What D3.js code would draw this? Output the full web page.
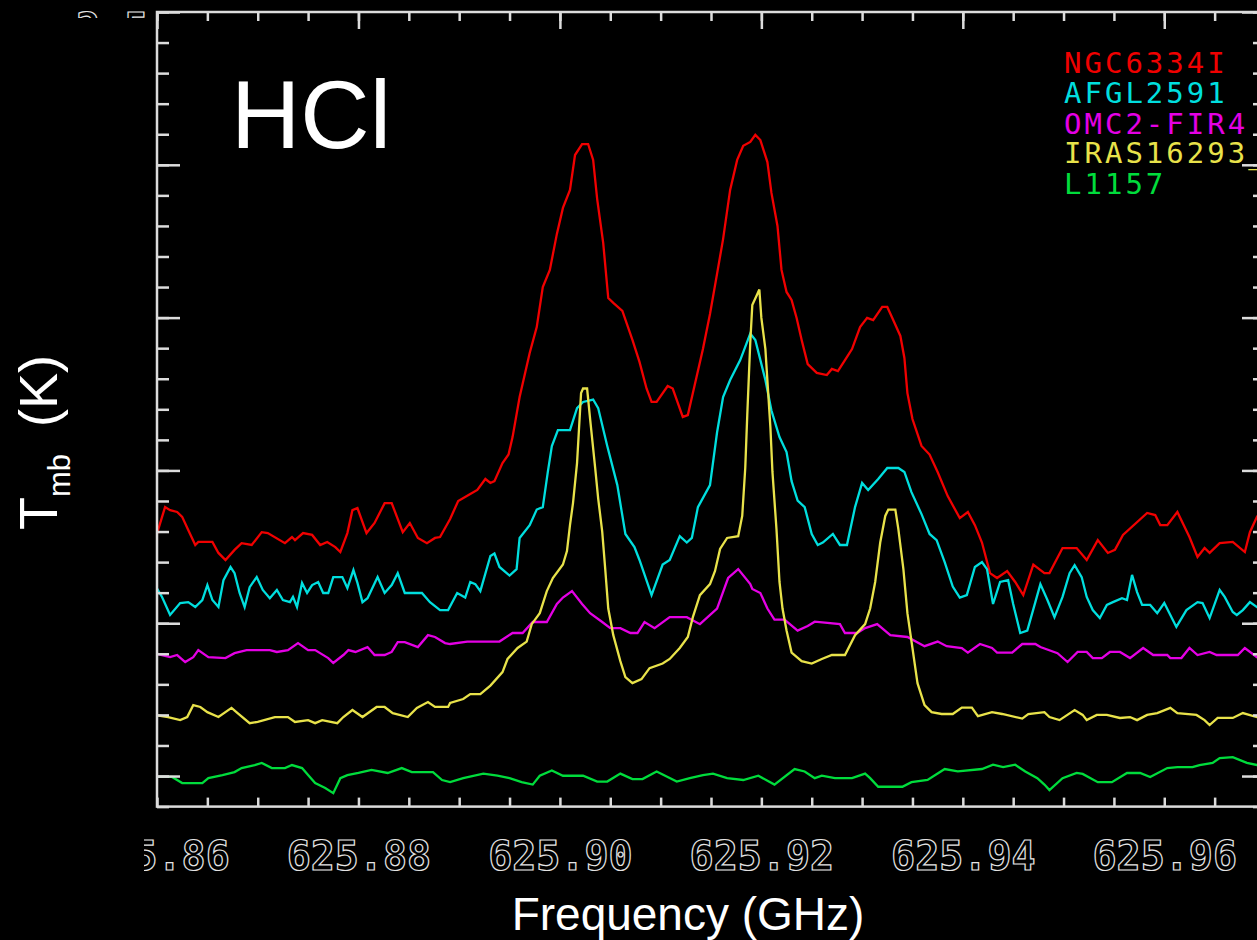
<!DOCTYPE html>
<html><head><meta charset="utf-8">
<script src="https://cdn.jsdelivr.net/npm/d3@7"></script>
<style>html,body{margin:0;padding:0;background:#000;overflow:hidden} svg{display:block}</style>
</head><body><svg id="c" width="1257" height="940"></svg>
<script>
// ---------- data ----------
const seriesNames = ["NGC6334I","AFGL2591","OMC2-FIR4","IRAS16293_","L1157"];
const seriesColors = ["#f00000","#00dede","#e400e4","#e8e24a","#00dc3c"];

const ngc6334i = [[625.8598,0.772],[625.8608,0.880],[625.8613,0.870],[625.8620,0.864],[625.8625,0.848],[625.8631,0.805],[625.8638,0.756],[625.8641,0.766],[625.8655,0.766],[625.8661,0.730],[625.8668,0.707],[625.8677,0.740],[625.8684,0.762],[625.8694,0.756],[625.8704,0.798],[625.8710,0.795],[625.8727,0.762],[625.8734,0.782],[625.8737,0.772],[625.8745,0.795],[625.8754,0.789],[625.8762,0.756],[625.8769,0.766],[625.8777,0.749],[625.8782,0.733],[625.8789,0.795],[625.8794,0.870],[625.8799,0.877],[625.8808,0.795],[625.8816,0.828],[625.8826,0.893],[625.8833,0.893],[625.8844,0.798],[625.8851,0.828],[625.8859,0.779],[625.8868,0.762],[625.8876,0.779],[625.8881,0.782],[625.8891,0.841],[625.8899,0.900],[625.8911,0.923],[625.8918,0.936],[625.8926,0.972],[625.8931,0.959],[625.8935,0.965],[625.8943,1.024],[625.8949,1.052],[625.8953,1.109],[625.8960,1.240],[625.8970,1.384],[625.8977,1.469],[625.8983,1.600],[625.8990,1.656],[625.8997,1.774],[625.9003,1.859],[625.9010,1.918],[625.9015,2.032],[625.9022,2.068],[625.9028,2.068],[625.9033,2.016],[625.9037,1.888],[625.9043,1.744],[625.9048,1.564],[625.9053,1.548],[625.9062,1.522],[625.9072,1.427],[625.9079,1.355],[625.9086,1.268],[625.9091,1.224],[625.9096,1.224],[625.9107,1.276],[625.9112,1.268],[625.9122,1.175],[625.9127,1.181],[625.9132,1.253],[625.9142,1.397],[625.9149,1.512],[625.9156,1.643],[625.9162,1.757],[625.9169,1.918],[625.9176,2.016],[625.9182,2.062],[625.9189,2.075],[625.9194,2.098],[625.9199,2.081],[625.9206,2.009],[625.9210,1.908],[625.9216,1.800],[625.9220,1.656],[625.9225,1.584],[625.9230,1.558],[625.9235,1.499],[625.9240,1.427],[625.9246,1.348],[625.9255,1.319],[625.9265,1.312],[625.9270,1.332],[625.9276,1.325],[625.9283,1.361],[625.9290,1.397],[625.9298,1.469],[625.9305,1.499],[625.9311,1.492],[625.9320,1.535],[625.9325,1.535],[625.9330,1.499],[625.9338,1.440],[625.9342,1.368],[625.9345,1.253],[625.9350,1.168],[625.9359,1.080],[625.9367,1.052],[625.9375,0.995],[625.9385,0.916],[625.9397,0.844],[625.9405,0.864],[625.9412,0.821],[625.9419,0.764],[625.9427,0.664],[625.9434,0.648],[625.9444,0.671],[625.9452,0.635],[625.9460,0.592],[625.9470,0.692],[625.9481,0.664],[625.9486,0.664],[625.9499,0.746],[625.9513,0.746],[625.9523,0.707],[625.9534,0.772],[625.9544,0.730],[625.9551,0.740],[625.9559,0.789],[625.9583,0.861],[625.9591,0.854],[625.9596,0.821],[625.9603,0.821],[625.9613,0.864],[625.9625,0.782],[625.9633,0.717],[625.9640,0.746],[625.9645,0.730],[625.9655,0.762],[625.9668,0.766],[625.9680,0.733],[625.9685,0.798],[625.9692,0.848],[625.9700,0.887]];

const afgl2591 = [[625.8598,0.625],[625.8605,0.586],[625.8613,0.527],[625.8623,0.566],[625.8631,0.569],[625.8638,0.553],[625.8645,0.576],[625.8650,0.625],[625.8655,0.576],[625.8661,0.553],[625.8666,0.641],[625.8673,0.684],[625.8677,0.664],[625.8682,0.599],[625.8687,0.553],[625.8692,0.618],[625.8699,0.651],[625.8705,0.609],[625.8712,0.582],[625.8719,0.609],[625.8725,0.576],[625.8732,0.569],[625.8735,0.586],[625.8739,0.553],[625.8744,0.632],[625.8749,0.599],[625.8754,0.625],[625.8760,0.635],[625.8765,0.599],[625.8770,0.599],[625.8775,0.651],[625.8784,0.651],[625.8789,0.615],[625.8795,0.674],[625.8799,0.632],[625.8804,0.569],[625.8809,0.582],[625.8819,0.651],[625.8826,0.599],[625.8833,0.625],[625.8839,0.664],[625.8846,0.599],[625.8863,0.599],[625.8871,0.569],[625.8881,0.543],[625.8889,0.543],[625.8898,0.599],[625.8906,0.584],[625.8911,0.635],[625.8916,0.628],[625.8921,0.605],[625.8931,0.720],[625.8935,0.728],[625.8940,0.684],[625.8950,0.656],[625.8957,0.677],[625.8960,0.779],[625.8970,0.821],[625.8977,0.872],[625.8983,0.880],[625.8988,0.995],[625.8992,1.080],[625.8998,1.132],[625.9010,1.132],[625.9017,1.204],[625.9023,1.224],[625.9033,1.232],[625.9038,1.204],[625.9047,1.080],[625.9057,0.952],[625.9065,0.792],[625.9074,0.749],[625.9079,0.707],[625.9091,0.592],[625.9102,0.692],[625.9109,0.707],[625.9119,0.785],[625.9126,0.764],[625.9131,0.779],[625.9137,0.880],[625.9149,0.952],[625.9156,1.124],[625.9162,1.240],[625.9169,1.296],[625.9179,1.361],[625.9189,1.448],[625.9194,1.427],[625.9204,1.296],[625.9210,1.196],[625.9218,1.109],[625.9225,1.060],[625.9230,0.965],[625.9236,0.901],[625.9243,0.880],[625.9250,0.792],[625.9256,0.756],[625.9261,0.764],[625.9271,0.792],[625.9278,0.756],[625.9285,0.756],[625.9293,0.880],[625.9300,0.959],[625.9306,0.936],[625.9316,0.972],[625.9325,1.008],[625.9336,1.008],[625.9342,0.995],[625.9349,0.929],[625.9359,0.857],[625.9367,0.792],[625.9374,0.772],[625.9382,0.700],[625.9390,0.620],[625.9397,0.584],[625.9404,0.592],[625.9412,0.684],[625.9419,0.700],[625.9424,0.677],[625.9430,0.563],[625.9437,0.635],[625.9445,0.641],[625.9450,0.563],[625.9457,0.468],[625.9464,0.476],[625.9472,0.569],[625.9477,0.628],[625.9484,0.576],[625.9491,0.520],[625.9499,0.586],[625.9506,0.664],[625.9511,0.690],[625.9518,0.651],[625.9523,0.586],[625.9529,0.543],[625.9536,0.517],[625.9543,0.560],[625.9549,0.569],[625.9558,0.582],[625.9563,0.576],[625.9568,0.658],[625.9573,0.602],[625.9578,0.560],[625.9586,0.560],[625.9593,0.533],[625.9600,0.566],[625.9612,0.488],[625.9622,0.543],[625.9633,0.569],[625.9638,0.566],[625.9645,0.517],[625.9655,0.609],[625.9660,0.586],[625.9668,0.537],[625.9672,0.527],[625.9678,0.543],[625.9685,0.569],[625.9692,0.553],[625.9700,0.576]];

const omc2fir4 = [[625.8598,0.402],[625.8605,0.396],[625.8613,0.389],[625.8620,0.396],[625.8628,0.373],[625.8636,0.389],[625.8641,0.412],[625.8651,0.389],[625.8668,0.386],[625.8677,0.402],[625.8689,0.412],[625.8712,0.412],[625.8719,0.406],[625.8730,0.412],[625.8740,0.435],[625.8750,0.412],[625.8757,0.412],[625.8770,0.386],[625.8775,0.370],[625.8785,0.396],[625.8790,0.412],[625.8797,0.406],[625.8809,0.422],[625.8816,0.396],[625.8826,0.396],[625.8833,0.406],[625.8839,0.438],[625.8846,0.438],[625.8859,0.422],[625.8869,0.461],[625.8876,0.455],[625.8886,0.435],[625.8891,0.432],[625.8908,0.440],[625.8940,0.440],[625.8953,0.468],[625.8963,0.468],[625.8973,0.504],[625.8987,0.504],[625.8997,0.563],[625.9003,0.584],[625.9012,0.605],[625.9022,0.563],[625.9030,0.533],[625.9042,0.504],[625.9050,0.484],[625.9060,0.484],[625.9070,0.468],[625.9077,0.468],[625.9084,0.504],[625.9094,0.484],[625.9109,0.520],[625.9126,0.520],[625.9139,0.497],[625.9156,0.548],[625.9167,0.648],[625.9177,0.677],[625.9189,0.628],[625.9191,0.612],[625.9199,0.599],[625.9206,0.548],[625.9213,0.512],[625.9223,0.512],[625.9236,0.476],[625.9246,0.491],[625.9253,0.505],[625.9278,0.497],[625.9283,0.468],[625.9295,0.468],[625.9303,0.484],[625.9315,0.497],[625.9328,0.461],[625.9345,0.455],[625.9362,0.425],[625.9375,0.440],[625.9384,0.425],[625.9399,0.419],[625.9405,0.404],[625.9417,0.432],[625.9429,0.419],[625.9434,0.404],[625.9449,0.404],[625.9459,0.432],[625.9472,0.432],[625.9477,0.422],[625.9494,0.402],[625.9504,0.373],[625.9514,0.406],[625.9523,0.406],[625.9529,0.386],[625.9538,0.386],[625.9546,0.406],[625.9556,0.406],[625.9566,0.386],[625.9579,0.419],[625.9589,0.396],[625.9603,0.396],[625.9606,0.386],[625.9617,0.386],[625.9625,0.419],[625.9633,0.396],[625.9645,0.406],[625.9652,0.396],[625.9673,0.396],[625.9680,0.419],[625.9692,0.389],[625.9700,0.396]];

const iras16293 = [[625.8598,0.200],[625.8611,0.193],[625.8623,0.183],[625.8630,0.193],[625.8636,0.232],[625.8643,0.226],[625.8650,0.209],[625.8661,0.193],[625.8674,0.223],[625.8680,0.206],[625.8692,0.173],[625.8700,0.177],[625.8717,0.193],[625.8730,0.193],[625.8737,0.177],[625.8750,0.183],[625.8757,0.173],[625.8764,0.183],[625.8779,0.173],[625.8785,0.193],[625.8794,0.216],[625.8804,0.193],[625.8818,0.226],[625.8826,0.226],[625.8834,0.206],[625.8849,0.193],[625.8858,0.223],[625.8869,0.242],[625.8876,0.226],[625.8889,0.226],[625.8891,0.239],[625.8904,0.252],[625.8911,0.268],[625.8921,0.268],[625.8931,0.296],[625.8943,0.340],[625.8948,0.383],[625.8958,0.419],[625.8967,0.440],[625.8972,0.497],[625.8980,0.533],[625.8987,0.605],[625.8993,0.648],[625.9003,0.692],[625.9007,0.736],[625.9010,0.821],[625.9013,0.893],[625.9017,1.024],[625.9019,1.139],[625.9021,1.253],[625.9023,1.268],[625.9027,1.268],[625.9030,1.168],[625.9035,1.008],[625.9038,0.908],[625.9042,0.800],[625.9045,0.677],[625.9048,0.548],[625.9053,0.461],[625.9060,0.376],[625.9065,0.324],[625.9072,0.304],[625.9081,0.317],[625.9089,0.353],[625.9102,0.368],[625.9109,0.383],[625.9119,0.419],[625.9127,0.455],[625.9132,0.520],[625.9139,0.592],[625.9149,0.628],[625.9154,0.671],[625.9159,0.743],[625.9166,0.779],[625.9177,0.785],[625.9181,0.851],[625.9184,1.008],[625.9186,1.181],[625.9189,1.420],[625.9191,1.541],[625.9196,1.577],[625.9198,1.592],[625.9200,1.499],[625.9204,1.397],[625.9209,1.139],[625.9211,0.995],[625.9215,0.808],[625.9218,0.635],[625.9221,0.548],[625.9225,0.476],[625.9230,0.404],[625.9240,0.376],[625.9250,0.368],[625.9260,0.383],[625.9270,0.396],[625.9283,0.396],[625.9293,0.461],[625.9303,0.497],[625.9308,0.548],[625.9313,0.635],[625.9318,0.764],[625.9323,0.851],[625.9326,0.872],[625.9333,0.872],[625.9336,0.808],[625.9341,0.677],[625.9345,0.533],[625.9350,0.419],[625.9355,0.304],[625.9362,0.232],[625.9369,0.209],[625.9379,0.203],[625.9390,0.203],[625.9399,0.224],[625.9409,0.224],[625.9415,0.196],[625.9429,0.209],[625.9439,0.203],[625.9459,0.188],[625.9465,0.203],[625.9481,0.209],[625.9486,0.193],[625.9496,0.183],[625.9511,0.216],[625.9519,0.200],[625.9523,0.183],[625.9533,0.200],[625.9543,0.200],[625.9556,0.190],[625.9566,0.193],[625.9573,0.183],[625.9583,0.200],[625.9593,0.206],[625.9606,0.223],[625.9613,0.206],[625.9632,0.200],[625.9640,0.183],[625.9645,0.167],[625.9653,0.190],[625.9668,0.190],[625.9678,0.206],[625.9692,0.193],[625.9700,0.200]];

const l1157 = [[625.8598,-0.003],[625.8615,-0.003],[625.8625,-0.023],[625.8645,-0.023],[625.8651,-0.007],[625.8665,0.003],[625.8677,0.013],[625.8684,0.026],[625.8697,0.036],[625.8704,0.043],[625.8714,0.026],[625.8727,0.026],[625.8734,0.036],[625.8744,0.026],[625.8750,0.003],[625.8757,-0.023],[625.8767,-0.039],[625.8775,-0.056],[625.8782,-0.007],[625.8789,0.003],[625.8800,0.010],[625.8813,0.020],[625.8829,0.010],[625.8843,0.026],[625.8853,0.013],[625.8874,0.013],[625.8883,-0.013],[625.8891,-0.020],[625.8904,-0.007],[625.8924,0.008],[625.8938,0.001],[625.8950,-0.007],[625.8962,-0.020],[625.8973,-0.028],[625.8980,0.001],[625.8992,0.018],[625.9003,0.001],[625.9023,0.001],[625.9037,-0.018],[625.9047,-0.018],[625.9060,0.008],[625.9072,-0.010],[625.9082,-0.010],[625.9096,0.015],[625.9116,-0.018],[625.9129,-0.007],[625.9142,0.003],[625.9152,0.008],[625.9166,-0.007],[625.9182,-0.013],[625.9197,0.001],[625.9213,-0.028],[625.9233,0.023],[625.9243,0.015],[625.9253,-0.007],[625.9260,0.001],[625.9273,-0.007],[625.9290,-0.007],[625.9303,0.008],[625.9308,-0.007],[625.9316,-0.035],[625.9340,-0.035],[625.9349,-0.020],[625.9365,-0.013],[625.9375,0.008],[625.9382,0.023],[625.9395,0.015],[625.9419,0.023],[625.9430,0.037],[625.9440,0.029],[625.9452,0.037],[625.9462,0.015],[625.9474,-0.007],[625.9481,-0.028],[625.9486,-0.046],[625.9499,-0.007],[625.9513,0.010],[625.9519,0.007],[625.9534,-0.020],[625.9548,-0.020],[625.9563,0.010],[625.9576,0.010],[625.9586,-0.003],[625.9603,0.026],[625.9613,0.029],[625.9628,0.029],[625.9635,0.036],[625.9648,0.043],[625.9655,0.059],[625.9668,0.062],[625.9682,0.043],[625.9692,0.036],[625.9700,0.039]];

const allSeries = [ngc6334i, afgl2591, omc2fir4, iras16293, l1157];

const xDomain = [625.86, 625.97];
const yDomain = [-0.1, 2.5];
const xMajorTicks = [625.86, 625.88, 625.90, 625.92, 625.94, 625.96];
const xTickLabels = ["625.86","625.88","625.90","625.92","625.94","625.96"];
const yMajorTicks = [0.0, 0.5, 1.0, 1.5, 2.0, 2.5];
const yTopLabel = "2.5";
const titleText = "HCl";
const xTitle = "Frequency (GHz)";

// ---------- layout ----------
const L = 157, R = 1265, T = 12, B = 806.6;
const svg = d3.select("#c");
svg.append("rect").attr("width",1257).attr("height",940).attr("fill","#000");

const x = d3.scaleLinear().domain(xDomain).range([L, R]);
const y = d3.scaleLinear().domain(yDomain).range([B, T]);

const xMinor = d3.range(0, 23).map(i => +(xDomain[0] + i*0.005).toFixed(3));
const yMinor = d3.range(0, 27).map(i => +(yDomain[0] + i*0.1).toFixed(1));

const axisColor = "#dcdcdc";
function styleAxis(g){
  g.select(".domain").remove();
  g.selectAll(".tick line").attr("stroke", axisColor).attr("stroke-width", 2.5);
}

const defs = svg.append("defs");
defs.append("clipPath").attr("id","plotclip").append("rect")
  .attr("x", L).attr("y", T).attr("width", R-L).attr("height", B-T);
defs.append("clipPath").attr("id","labclip").append("rect")
  .attr("x", 144).attr("y", 0).attr("width", 1200).attr("height", 940);
defs.append("clipPath").attr("id","topclip").append("rect")
  .attr("x", 0).attr("y", 0).attr("width", 150).attr("height", 18);

// spectra
const line = d3.line().x(d => x(d[0])).y(d => y(d[1]));
const gLines = svg.append("g").attr("clip-path","url(#plotclip)");
allSeries.forEach((s, i) => {
  gLines.append("path").datum(s).attr("d", line)
    .attr("fill","none").attr("stroke", seriesColors[i])
    .attr("stroke-width", 2.3).attr("stroke-linejoin","miter");
});

// axes: ticks inward
svg.append("g").attr("transform",`translate(0,${B})`)
  .call(d3.axisBottom(x).tickValues(xMinor).tickSize(-9).tickFormat("")).call(styleAxis);
const gxb = svg.append("g").attr("transform",`translate(0,${B})`)
  .call(d3.axisBottom(x).tickValues(xMajorTicks).tickSize(-17).tickPadding(35)
        .tickFormat((d,i) => xTickLabels[i])).call(styleAxis);
gxb.attr("clip-path","url(#labclip)");
gxb.selectAll("text")
  .attr("font-family","'DejaVu Sans Mono', monospace").attr("font-weight","bold")
  .attr("font-size",40).attr("fill","#000").attr("stroke","#e4e4e4").attr("stroke-width",1.2);

svg.append("g").attr("transform",`translate(0,${T})`)
  .call(d3.axisTop(x).tickValues(xMinor).tickSize(-9).tickFormat("")).call(styleAxis);
svg.append("g").attr("transform",`translate(0,${T})`)
  .call(d3.axisTop(x).tickValues(xMajorTicks).tickSize(-17).tickFormat("")).call(styleAxis);

svg.append("g").attr("transform",`translate(${L},0)`)
  .call(d3.axisLeft(y).tickValues(yMinor).tickSize(-12).tickFormat("")).call(styleAxis);
svg.append("g").attr("transform",`translate(${L},0)`)
  .call(d3.axisLeft(y).tickValues(yMajorTicks).tickSize(-23).tickFormat("")).call(styleAxis);
svg.append("g").attr("transform",`translate(${R},0)`)
  .call(d3.axisRight(y).tickValues(yMinor).tickSize(-12).tickFormat("")).call(styleAxis);
svg.append("g").attr("transform",`translate(${R},0)`)
  .call(d3.axisRight(y).tickValues(yMajorTicks).tickSize(-23).tickFormat("")).call(styleAxis);

// frame
svg.append("rect").attr("x", L).attr("y", T).attr("width", R-L).attr("height", B-T)
  .attr("fill","none").attr("stroke", axisColor).attr("stroke-width", 2.5);

// partially hidden top y label fragment
svg.append("text").attr("x", 76).attr("y", y(2.5) + 30).attr("clip-path","url(#topclip)")
  .attr("font-family","'DejaVu Sans Mono', monospace").attr("font-weight","bold")
  .attr("font-size",40).attr("fill","#000").attr("stroke","#e4e4e4").attr("stroke-width",1.2)
  .text(yTopLabel);

// title
svg.append("text").attr("x", 231).attr("y", 148)
  .attr("font-family","'Liberation Sans', Arial, sans-serif").attr("font-size", 96)
  .attr("fill","#fff").text(titleText);

// legend
const legend = svg.append("g");
const legendY = [73, 103, 134, 163, 194];
seriesNames.forEach((n, i) => {
  legend.append("text").attr("x", 1064).attr("y", legendY[i])
    .attr("font-family","'DejaVu Sans Mono', monospace").attr("font-size", 29)
    .attr("letter-spacing", 3).attr("fill", seriesColors[i]).text(n);
});

// axis titles
svg.append("text").attr("x", 688).attr("y", 930).attr("text-anchor","middle")
  .attr("font-family","'Liberation Sans', Arial, sans-serif").attr("font-size", 46)
  .attr("fill","#fff").text(xTitle);

const yt = svg.append("text").attr("transform","translate(57,530) rotate(-90)")
  .attr("font-family","'Liberation Sans', Arial, sans-serif").attr("font-size", 54)
  .attr("fill","#fff");
yt.append("tspan").text("T");
yt.append("tspan").attr("font-size", 31).attr("dy", 13).text("mb");
yt.append("tspan").attr("dy", -13).attr("dx", 12).text(" (K)");
</script></body></html>
